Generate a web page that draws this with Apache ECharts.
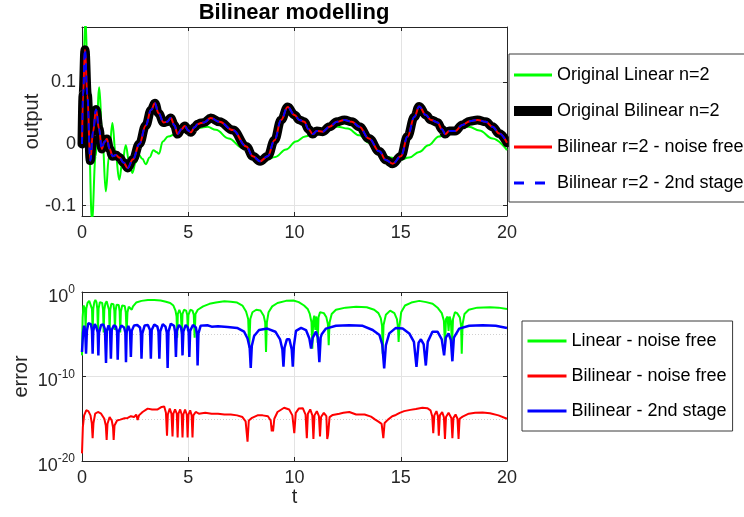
<!DOCTYPE html>
<html><head><meta charset="utf-8">
<script src="https://cdn.jsdelivr.net/npm/echarts@6/dist/echarts.min.js"></script>
<style>html,body{margin:0;padding:0;background:#fff}#c{width:744px;height:517px}</style>
</head><body><div id="c"></div>
<script>
const FONT = '"Liberation Sans", Arial, Helvetica, sans-serif';
const AX = '#262626';

// ---- data ----
const outputTicks = [-0.1, 0, 0.1];
const errorTicks = [1e-20, 1e-10, 1];
const errorMinorTicks = [1e-15, 1e-5];

// Top: [t, output]
const originalLinear = [[0,0],[0.07,0.14],[0.17,0.205],[0.3,0.04],[0.47,-0.125],[0.64,-0.02],[0.81,0.092],[0.96,0.01],[1.12,-0.077],[1.27,-0.02],[1.43,0.034],[1.58,-0.015],[1.75,-0.058],[1.9,-0.03],[2.06,-0.002],[2.22,-0.03],[2.37,-0.047],[2.53,-0.03],[2.68,-0.018],[2.84,-0.024],[3.0,-0.033],[3.18,-0.022],[3.36,-0.01],[3.5,-0.013],[3.62,-0.016],[3.8,0.004],[4.05,0.012],[4.45,0.017],[5.0,0.022],[5.5,0.026],[5.9,0.028],[6.3,0.023],[6.9,0.009],[7.55,-0.006],[8.2,-0.021],[8.65,-0.026],[9.1,-0.021],[9.6,-0.009],[10.07,0.004],[10.5,0.012],[11.0,0.02],[11.5,0.026],[12.03,0.028],[12.5,0.025],[13.05,0.014],[13.5,0.002],[13.99,-0.012],[14.5,-0.022],[14.93,-0.026],[15.4,-0.022],[15.87,-0.013],[16.3,-0.002],[16.8,0.012],[17.3,0.022],[17.7,0.027],[18.21,0.028],[18.7,0.022],[19.32,0.009],[20,-0.01]];

const originalBilinear = [[0,0],[0.05,0.08],[0.14,0.153],[0.25,0.08],[0.39,-0.027],[0.52,0.02],[0.66,0.056],[0.8,0.025],[0.93,-0.008],[1.05,0.003],[1.17,0.008],[1.3,-0.008],[1.44,-0.02],[1.6,-0.018],[1.76,-0.022],[1.95,-0.03],[2.15,-0.039],[2.4,-0.025],[2.7,0.0],[3.0,0.03],[3.25,0.055],[3.43,0.066],[3.6,0.05],[3.84,0.035],[4.0,0.036],[4.18,0.042],[4.35,0.03],[4.5,0.016],[4.68,0.024],[4.84,0.029],[5.0,0.022],[5.12,0.019],[5.3,0.027],[5.44,0.032],[5.6,0.034],[5.75,0.035],[6.06,0.042],[6.47,0.036],[7.1,0.0225],[7.73,-0.004],[8.04,-0.02],[8.38,-0.028],[8.74,-0.02],[9.06,0.006],[9.37,0.039],[9.68,0.06],[10.0,0.047],[10.23,0.039],[10.46,0.036],[10.66,0.024],[10.86,0.016],[11.05,0.021],[11.33,0.02],[11.65,0.028],[12.0,0.036],[12.35,0.039],[12.7,0.036],[13.05,0.028],[13.5,0.009],[13.99,-0.012],[14.3,-0.026],[14.62,-0.032],[15.01,-0.02],[15.32,0.012],[15.64,0.044],[15.87,0.061],[16.18,0.047],[16.42,0.039],[16.73,0.035],[16.94,0.024],[17.09,0.016],[17.28,0.021],[17.56,0.021],[17.9,0.031],[18.25,0.037],[18.61,0.039],[19.0,0.036],[19.32,0.028],[19.63,0.017],[20,0.002]];
// the identified bilinear models overlay the original bilinear output
const bilinearNoiseFree = originalBilinear;
const bilinearSecondStage = originalBilinear;

// Bottom: [t, log10(error)]
const linearErrLog = [[0,-7.5],[0.03,-3.0],[0.07,-1.6],[0.11,-1.4],[0.14,-2.0],[0.17,-4.3],[0.2,-2.0],[0.26,-1.3],[0.34,-1.05],[0.42,-1.2],[0.47,-2.0],[0.5,-4.9],[0.53,-2.0],[0.58,-1.2],[0.63,-0.95],[0.68,-1.2],[0.72,-2.0],[0.75,-4.5],[0.78,-2.0],[0.84,-1.2],[0.89,-1.0],[0.95,-1.3],[0.99,-2.1],[1.02,-4.8],[1.05,-2.1],[1.1,-1.35],[1.16,-1.1],[1.22,-1.3],[1.27,-2.1],[1.3,-4.6],[1.33,-2.1],[1.38,-1.4],[1.43,-1.25],[1.48,-1.45],[1.52,-2.2],[1.55,-4.5],[1.58,-2.2],[1.63,-1.5],[1.68,-1.35],[1.73,-1.55],[1.77,-2.3],[1.8,-4.8],[1.83,-2.3],[1.89,-1.6],[1.95,-1.45],[2.01,-1.65],[2.06,-2.4],[2.1,-4.9],[2.14,-2.4],[2.2,-1.75],[2.28,-1.8],[2.34,-2.1],[2.4,-1.7],[2.55,-1.25],[2.8,-1.05],[3.1,-0.95],[3.4,-0.95],[3.7,-1.0],[3.95,-1.15],[4.15,-1.3],[4.3,-1.6],[4.4,-2.2],[4.45,-2.9],[4.48,-5.4],[4.51,-2.6],[4.58,-2.1],[4.65,-2.6],[4.7,-5.0],[4.73,-2.6],[4.8,-2.1],[4.9,-2.2],[4.95,-2.7],[4.98,-4.6],[5.01,-2.7],[5.1,-2.1],[5.2,-2.2],[5.26,-2.7],[5.3,-5.4],[5.34,-2.6],[5.45,-2.1],[5.7,-1.7],[6.0,-1.4],[6.3,-1.25],[6.7,-1.1],[7.0,-1.15],[7.3,-1.25],[7.55,-1.6],[7.72,-2.3],[7.82,-3.2],[7.87,-6.6],[7.92,-3.2],[8.02,-2.4],[8.2,-2.1],[8.4,-2.2],[8.55,-2.8],[8.62,-3.6],[8.66,-7.1],[8.7,-3.6],[8.78,-2.4],[8.95,-1.7],[9.2,-1.3],[9.6,-1.05],[9.95,-1.0],[10.2,-1.2],[10.45,-1.6],[10.62,-2.0],[10.72,-2.6],[10.8,-3.6],[10.84,-6.7],[10.88,-3.4],[10.93,-2.8],[10.98,-4.5],[11.02,-2.9],[11.06,-3.5],[11.09,-6.0],[11.13,-3.0],[11.2,-2.4],[11.27,-2.3],[11.38,-2.5],[11.5,-3.0],[11.57,-3.8],[11.61,-6.3],[11.65,-3.6],[11.75,-2.6],[11.95,-2.1],[12.4,-1.85],[12.9,-1.75],[13.4,-1.8],[13.75,-2.1],[13.95,-2.5],[14.06,-3.1],[14.12,-4.0],[14.15,-7.3],[14.19,-3.9],[14.3,-2.7],[14.5,-2.2],[14.7,-2.5],[14.82,-3.2],[14.87,-4.2],[14.9,-5.9],[14.94,-4.0],[15.02,-2.4],[15.2,-1.6],[15.5,-1.25],[15.87,-1.05],[16.2,-1.2],[16.5,-1.4],[16.75,-1.9],[16.93,-2.5],[17.03,-3.4],[17.08,-6.3],[17.13,-3.2],[17.2,-2.9],[17.25,-4.6],[17.3,-2.9],[17.36,-3.4],[17.41,-6.4],[17.46,-3.2],[17.55,-2.4],[17.65,-2.5],[17.78,-3.0],[17.84,-4.0],[17.87,-7.3],[17.91,-3.8],[18.0,-2.6],[18.2,-2.1],[18.6,-1.85],[19.2,-1.8],[19.6,-1.85],[20,-2.0]];

const bilinearErrLog = [[0,-19.1],[0.04,-16.0],[0.1,-14.6],[0.2,-14.0],[0.3,-14.1],[0.4,-14.6],[0.46,-15.5],[0.5,-17.3],[0.54,-15.5],[0.62,-14.4],[0.75,-14.2],[0.9,-14.4],[1.05,-15.0],[1.12,-15.8],[1.16,-17.5],[1.2,-15.6],[1.3,-14.8],[1.4,-15.2],[1.46,-16.0],[1.49,-17.5],[1.53,-15.8],[1.65,-15.2],[1.8,-15.1],[2.0,-14.95],[2.15,-14.9],[2.3,-14.7],[2.45,-14.8],[2.55,-14.5],[2.62,-15.15],[2.68,-14.6],[2.85,-14.2],[3.09,-13.8],[3.3,-13.9],[3.56,-13.9],[3.75,-13.6],[3.87,-13.55],[3.95,-14.3],[4.0,-17.0],[4.04,-14.5],[4.13,-13.8],[4.21,-14.4],[4.26,-17.1],[4.3,-14.4],[4.38,-13.9],[4.46,-14.4],[4.5,-17.2],[4.54,-14.4],[4.62,-13.9],[4.69,-14.5],[4.73,-17.2],[4.77,-14.5],[4.85,-13.9],[4.93,-14.5],[4.97,-17.2],[5.01,-14.5],[5.09,-14.0],[5.16,-14.6],[5.2,-17.2],[5.24,-14.6],[5.35,-14.2],[5.5,-14.4],[5.8,-14.3],[6.1,-14.4],[6.4,-14.4],[6.7,-14.5],[7.0,-14.5],[7.3,-14.6],[7.55,-14.8],[7.7,-15.3],[7.79,-17.7],[7.85,-15.2],[8.0,-14.9],[8.26,-14.6],[8.5,-14.6],[8.75,-14.7],[8.88,-15.2],[8.93,-16.5],[8.96,-15.8],[8.99,-16.5],[9.05,-15.0],[9.2,-14.2],[9.51,-13.7],[9.75,-13.9],[9.9,-14.6],[9.99,-16.7],[10.06,-14.3],[10.2,-13.8],[10.39,-13.75],[10.52,-14.5],[10.58,-17.3],[10.63,-14.4],[10.74,-13.9],[10.84,-14.6],[10.89,-17.4],[10.94,-14.6],[11.05,-14.1],[11.15,-14.7],[11.2,-17.1],[11.25,-14.8],[11.38,-14.3],[11.5,-14.7],[11.54,-17.4],[11.58,-16.9],[11.65,-14.8],[11.8,-14.55],[12.11,-14.4],[12.3,-14.3],[12.58,-14.2],[12.9,-14.5],[13.3,-14.5],[13.6,-14.75],[13.8,-15.1],[13.95,-15.35],[14.1,-15.6],[14.18,-17.3],[14.24,-15.5],[14.4,-15.1],[14.6,-14.7],[14.77,-14.55],[14.95,-14.3],[15.16,-14.1],[15.45,-13.95],[15.71,-13.85],[16.02,-13.7],[16.25,-13.75],[16.4,-14.0],[16.48,-14.7],[16.53,-16.7],[16.58,-14.6],[16.68,-14.1],[16.75,-14.7],[16.79,-17.0],[16.84,-14.6],[16.95,-14.2],[17.03,-14.8],[17.08,-17.4],[17.13,-14.8],[17.25,-14.3],[17.38,-14.9],[17.43,-17.3],[17.48,-14.9],[17.58,-14.5],[17.67,-15.0],[17.72,-17.4],[17.77,-15.0],[17.91,-14.75],[18.2,-14.4],[18.5,-14.3],[18.85,-14.25],[19.2,-14.35],[19.6,-14.6],[20,-15.0]];

const secondStageErrLog = [[0,-7.1],[0.05,-4.8],[0.1,-4.0],[0.15,-4.6],[0.19,-7.3],[0.23,-4.6],[0.3,-3.7],[0.36,-3.55],[0.42,-3.8],[0.47,-4.6],[0.5,-7.3],[0.53,-4.6],[0.6,-3.8],[0.67,-4.1],[0.74,-4.8],[0.77,-7.5],[0.8,-4.8],[0.9,-3.9],[1.0,-3.85],[1.08,-4.4],[1.13,-8.4],[1.17,-4.6],[1.25,-3.95],[1.32,-4.5],[1.36,-7.9],[1.4,-4.5],[1.5,-3.95],[1.6,-4.1],[1.65,-4.7],[1.68,-8.0],[1.72,-4.7],[1.85,-3.95],[1.98,-4.2],[2.04,-4.8],[2.07,-8.3],[2.1,-4.8],[2.18,-4.0],[2.26,-4.6],[2.3,-7.7],[2.34,-4.6],[2.45,-3.95],[2.6,-3.9],[2.73,-4.2],[2.77,-4.9],[2.8,-7.9],[2.84,-4.9],[2.95,-3.95],[3.1,-3.9],[3.2,-4.5],[3.24,-7.9],[3.28,-4.5],[3.4,-3.85],[3.55,-4.1],[3.6,-4.7],[3.64,-7.9],[3.68,-4.7],[3.8,-3.8],[3.93,-4.1],[3.99,-4.8],[4.03,-9.0],[4.07,-4.7],[4.18,-3.75],[4.33,-4.0],[4.38,-4.7],[4.42,-7.7],[4.46,-4.6],[4.56,-3.9],[4.66,-4.2],[4.7,-4.8],[4.73,-7.5],[4.77,-4.7],[4.88,-3.9],[4.98,-4.2],[5.02,-4.8],[5.05,-7.7],[5.09,-4.6],[5.22,-3.9],[5.36,-4.2],[5.41,-5.0],[5.44,-8.7],[5.48,-4.9],[5.58,-4.0],[5.75,-3.95],[5.9,-3.93],[6.1,-4.1],[6.4,-4.05],[6.85,-4.13],[7.3,-4.25],[7.63,-4.7],[7.79,-5.5],[7.89,-6.6],[7.94,-9.0],[7.99,-6.4],[8.1,-5.2],[8.33,-4.5],[8.72,-4.33],[9.1,-4.7],[9.32,-5.6],[9.43,-6.8],[9.48,-8.85],[9.53,-6.6],[9.64,-5.6],[9.76,-5.6],[9.87,-6.8],[9.92,-8.85],[9.97,-6.4],[10.07,-4.6],[10.31,-4.25],[10.54,-4.5],[10.7,-5.5],[10.78,-6.7],[10.86,-5.4],[11.01,-4.7],[11.1,-5.4],[11.17,-8.3],[11.23,-5.4],[11.28,-5.0],[11.48,-4.33],[11.95,-4.0],[12.58,-3.93],[13.21,-4.0],[13.68,-4.5],[14.0,-5.1],[14.13,-6.2],[14.22,-9.05],[14.3,-6.3],[14.46,-4.9],[14.77,-4.25],[15.09,-4.33],[15.4,-4.9],[15.62,-5.9],[15.74,-8.85],[15.84,-6.0],[15.95,-5.6],[16.08,-6.2],[16.18,-8.7],[16.27,-5.9],[16.49,-4.7],[16.73,-4.7],[16.93,-5.6],[17.04,-7.5],[17.12,-5.4],[17.25,-4.9],[17.36,-5.7],[17.43,-8.2],[17.5,-5.4],[17.75,-4.33],[18.22,-4.0],[18.85,-3.93],[19.47,-4.0],[20,-4.25]];

// ---- chart ----
const chart = echarts.init(document.getElementById('c'), null, {renderer: 'canvas'});
const toErr = arr => arr.map(p => [p[0], Math.pow(10, p[1])]);
const lbl = {fontFamily: FONT, fontSize: 18, color: AX};
const nameStyle = {fontFamily: FONT, fontSize: 20, color: AX};

function xAx(gridIndex, position, showLabel, name) {
  return {
    type: 'value', gridIndex, position, min: 0, max: 20, interval: 5,
    name: name || '', nameLocation: 'middle', nameGap: 26, nameMoveOverlap: false,
    nameTextStyle: nameStyle,
    axisLine: {show: true, onZero: false, lineStyle: {color: AX, width: 1}},
    axisTick: {show: true, inside: true, length: 4, lineStyle: {color: AX}},
    axisLabel: Object.assign({show: showLabel, margin: 8}, lbl),
    splitLine: {show: showLabel, lineStyle: {color: '#e3e3e3', width: 1}}
  };
}
function yOut(position, main) {
  return {
    type: 'value', gridIndex: 0, position, min: -0.117, max: 0.19,
    name: main ? 'output' : '', nameLocation: 'middle', nameGap: 40, nameMoveOverlap: false,
    nameTextStyle: nameStyle,
    axisLine: {show: true, onZero: false, lineStyle: {color: AX, width: 1}},
    axisTick: {show: true, inside: true, length: 4, customValues: outputTicks, lineStyle: {color: AX}},
    axisLabel: Object.assign({show: main, margin: 6, customValues: outputTicks}, lbl),
    splitLine: {show: main, lineStyle: {color: '#e3e3e3', width: 1}}
  };
}
function yErr(position, main) {
  return {
    type: 'log', logBase: 10, gridIndex: 1, position, min: 1e-20, max: 1,
    name: main ? 'error' : '', nameLocation: 'middle', nameGap: 51, nameMoveOverlap: false,
    nameTextStyle: nameStyle,
    axisLine: {show: true, onZero: false, lineStyle: {color: AX, width: 1}},
    axisTick: {show: true, inside: true, length: 4, customValues: errorTicks, lineStyle: {color: AX}},
    axisLabel: {
      show: main, margin: 7, customValues: errorTicks, fontFamily: FONT, color: AX,
      padding: [6, 0, 0, 0],
      formatter: v => '{b|10}{s|' + Math.round(Math.log10(v)) + '}',
      rich: {
        b: {fontFamily: FONT, fontSize: 18, color: AX, lineHeight: 22, verticalAlign: 'bottom'},
        s: {fontFamily: FONT, fontSize: 12, color: AX, lineHeight: 22, verticalAlign: 'top'}
      }
    },
    splitLine: {show: main, lineStyle: {color: '#e3e3e3', width: 1}}
  };
}
const yMinor = {
  type: 'log', logBase: 10, gridIndex: 1, position: 'left', min: 1e-20, max: 1,
  axisLine: {show: false}, axisLabel: {show: false},
  axisTick: {show: false, customValues: errorMinorTicks},
  splitLine: {show: true, lineStyle: {color: '#d0d0d0', width: 1, type: [1, 2]}}
};

const legendBase = {
  orient: 'vertical', selectedMode: false, backgroundColor: '#fff',
  borderColor: '#3a3a3a', borderWidth: 1, itemHeight: 14,
  itemStyle: {opacity: 0},
  lineStyle: {width: 3, cap: 'butt'},
  textStyle: {fontFamily: FONT, fontSize: 18, color: '#000'}
};

const option = {
  animation: false,
  backgroundColor: '#fff',
  title: {text: 'Bilinear modelling', left: 294, top: 2, padding: 0, textAlign: 'center',
    textStyle: {fontFamily: FONT, fontSize: 22, fontWeight: 'bold', color: '#000'}},
  grid: [
    {left: 82, top: 27, width: 425, height: 189, containLabel: false},
    {left: 82, top: 292, width: 425, height: 169, containLabel: false}
  ],
  xAxis: [xAx(0, 'bottom', true), xAx(0, 'top', false), xAx(1, 'bottom', true, 't'), xAx(1, 'top', false)],
  yAxis: [yOut('left', true), yOut('right', false), yErr('left', true), yErr('right', false), yMinor],
  legend: [
    Object.assign({}, legendBase, {left: 509, top: 54, padding: [12, 24, 10, 0], itemWidth: 38, itemGap: 18,
      data: [
        {name: 'Original Linear n=2'},
        {name: 'Original Bilinear n=2', lineStyle: {width: 10, cap: 'butt', join: 'miter'}},
        {name: 'Bilinear r=2 - noise free'},
        {name: 'Bilinear r=2 - 2nd stage', lineStyle: {width: 3, type: [10, 11]}}
      ]}),
    Object.assign({}, legendBase, {left: 522, top: 321, padding: [11, 6, 11, 4], itemWidth: 39, itemGap: 17,
      data: ['Linear - noise free', 'Bilinear - noise free', 'Bilinear - 2nd stage']})
  ],
  series: [
    {name: 'Original Linear n=2', type: 'line', xAxisIndex: 0, yAxisIndex: 0, data: originalLinear,
      showSymbol: false, symbol: 'none', smooth: 0.4, smoothMonotone: 'x', lineStyle: {color: '#00ff00', width: 2}, itemStyle: {color: '#00ff00'}},
    {name: 'Original Bilinear n=2', type: 'line', xAxisIndex: 0, yAxisIndex: 0, data: originalBilinear,
      showSymbol: false, symbol: 'none', smooth: 0.4, smoothMonotone: 'x', lineStyle: {color: '#000', width: 9, cap: 'round', join: 'round'}, itemStyle: {color: '#000'}},
    {name: 'Bilinear r=2 - noise free', type: 'line', xAxisIndex: 0, yAxisIndex: 0, data: bilinearNoiseFree,
      showSymbol: false, symbol: 'none', smooth: 0.4, smoothMonotone: 'x', lineStyle: {color: '#ff0000', width: 2}, itemStyle: {color: '#ff0000'}},
    {name: 'Bilinear r=2 - 2nd stage', type: 'line', xAxisIndex: 0, yAxisIndex: 0, data: bilinearSecondStage,
      showSymbol: false, symbol: 'none', smooth: 0.4, smoothMonotone: 'x', lineStyle: {color: '#0000ff', width: 2, type: [7, 5]}, itemStyle: {color: '#0000ff'}},
    {name: 'Linear - noise free', type: 'line', xAxisIndex: 2, yAxisIndex: 2, data: toErr(linearErrLog),
      showSymbol: false, symbol: 'none', lineStyle: {color: '#00ff00', width: 2}, itemStyle: {color: '#00ff00'}},
    {name: 'Bilinear - noise free', type: 'line', xAxisIndex: 2, yAxisIndex: 2, data: toErr(bilinearErrLog),
      showSymbol: false, symbol: 'none', lineStyle: {color: '#ff0000', width: 2}, itemStyle: {color: '#ff0000'}},
    {name: 'Bilinear - 2nd stage', type: 'line', xAxisIndex: 2, yAxisIndex: 2, data: toErr(secondStageErrLog),
      showSymbol: false, symbol: 'none', lineStyle: {color: '#0000ff', width: 2.5}, itemStyle: {color: '#0000ff'}}
  ]
};
chart.setOption(option);
</script>
</body></html>
